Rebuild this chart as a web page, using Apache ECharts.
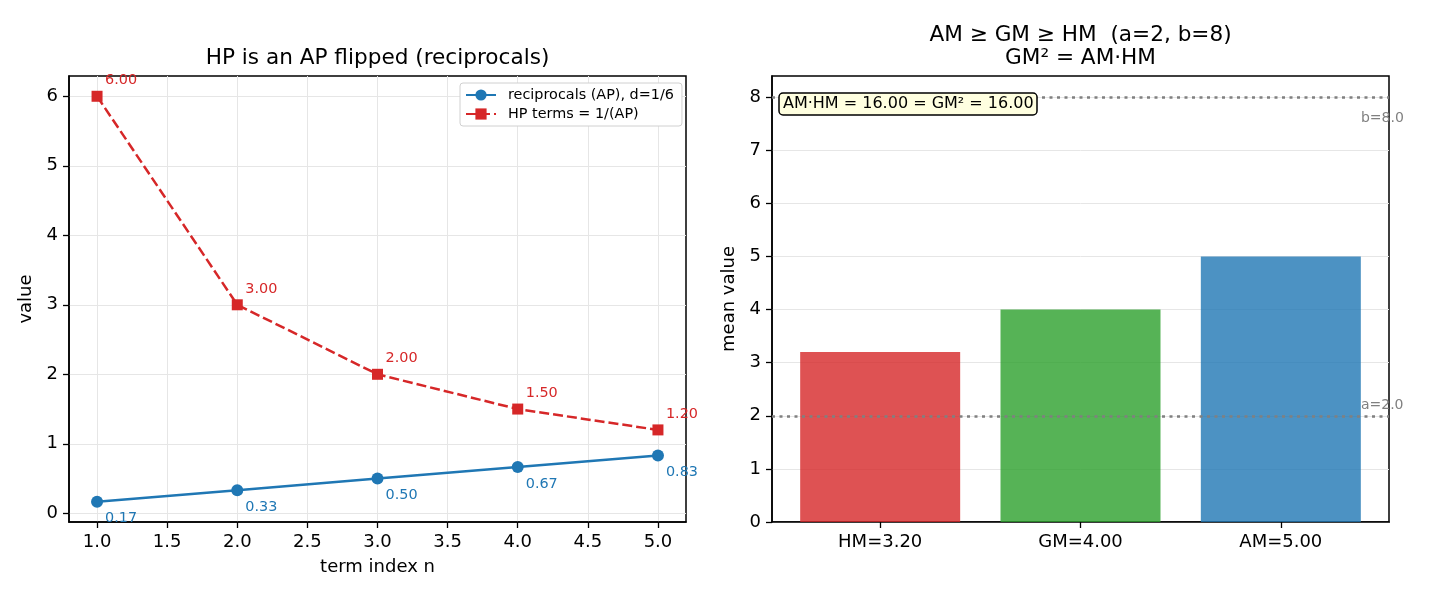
<!DOCTYPE html>
<html>
<head>
<meta charset="utf-8">
<script src="https://cdn.jsdelivr.net/npm/echarts@6/dist/echarts.min.js"></script>
<style>
  html, body { margin: 0; padding: 0; background: #fff; }
  #chart { width: 1430px; height: 598px; }
</style>
</head>
<body>
<div id="chart"></div>
<script>
// left panel: term index, reciprocals (AP) and HP terms
const termIndex = [1, 2, 3, 4, 5];
const apRecip = [0.1667, 0.3333, 0.5, 0.6667, 0.8333];
const hpTerms = [6.0, 3.0, 2.0, 1.5, 1.2];
const leftXTicks = [1.0, 1.5, 2.0, 2.5, 3.0, 3.5, 4.0, 4.5, 5.0];
const leftYTicks = [0, 1, 2, 3, 4, 5, 6];

// right panel: means for a=2, b=8
const meanNames = ['HM', 'GM', 'AM'];
const meanValues = [3.2, 4.0, 5.0];
const meanColors = ['#d62728', '#2ca02c', '#1f77b4'];
const aVal = 2;
const bVal = 8;
const rightYTicks = [0, 1, 2, 3, 4, 5, 6, 7, 8];

const FONT = 'DejaVu Sans';
const myChart = echarts.init(document.getElementById('chart'), null, { renderer: 'canvas' });

const axisCommon = {
    axisLine: { show: true, onZero: false, lineStyle: { color: '#000', width: 1.5 } },
    axisTick: { show: true, length: 6, lineStyle: { color: '#000', width: 1.3 } },
    axisLabel: { color: '#000', fontSize: 18, fontFamily: FONT, margin: 11 },
    nameTextStyle: { color: '#000', fontSize: 18, fontFamily: FONT },
    nameLocation: 'middle'
};

const option = {
    backgroundColor: '#fff',
    animation: false,
    textStyle: { fontFamily: FONT },
    title: [{
        // annotation box in right panel
        text: `AM·HM = ${(meanValues[2] * meanValues[0]).toFixed(2)} = GM² = ${(meanValues[1] * meanValues[1]).toFixed(2)}`,
        left: 779,
        top: 93,
        padding: [3, 4, 3, 4],
        backgroundColor: '#ffffe0',
        borderColor: '#000',
        borderWidth: 1.5,
        borderRadius: 4,
        textStyle: { fontSize: 16, fontWeight: 'normal', color: '#000', fontFamily: FONT }
    }],
    graphic: [
        { type: 'text', x: 377.5, y: 58, style: { text: 'HP is an AP flipped (reciprocals)', font: '21.6px "DejaVu Sans"', fill: '#000', align: 'center', verticalAlign: 'middle' } },
        { type: 'text', x: 1080.5, y: 35, style: { text: 'AM ≥ GM ≥ HM  (a=2, b=8)', font: '21.6px "DejaVu Sans"', fill: '#000', align: 'center', verticalAlign: 'middle' } },
        { type: 'text', x: 1080.5, y: 58, style: { text: 'GM² = AM·HM', font: '21.6px "DejaVu Sans"', fill: '#000', align: 'center', verticalAlign: 'middle' } }
    ],
    legend: {
        left: 460,
        top: 83,
        orient: 'vertical',
        itemWidth: 30,
        itemHeight: 14,
        itemGap: 5,
        padding: [5, 8, 5, 5],
        backgroundColor: '#fff',
        borderColor: '#d0d0d0',
        borderWidth: 1,
        borderRadius: 3,
        textStyle: { fontSize: 14.4, color: '#000', fontFamily: FONT, padding: [0, 0, 0, 7] },
        data: ['reciprocals (AP), d=1/6', 'HP terms = 1/(AP)']
    },
    grid: [
        { left: 69, top: 76, width: 617, height: 446, show: true, borderColor: '#000', borderWidth: 1.5, backgroundColor: 'transparent' },
        { left: 772, top: 76, width: 617, height: 446, show: true, borderColor: '#000', borderWidth: 1.5, backgroundColor: 'transparent' }
    ],
    xAxis: [
        {
            ...axisCommon,
            type: 'value',
            gridIndex: 0,
            min: 0.8,
            max: 5.2,
            name: 'term index n',
            nameGap: 36,
            axisTick: { ...axisCommon.axisTick, customValues: leftXTicks },
            axisLabel: { ...axisCommon.axisLabel, customValues: leftXTicks, formatter: v => v.toFixed(1) },
            splitLine: { show: true, lineStyle: { color: '#e6e6e6', width: 1 } }
        },
        {
            ...axisCommon,
            type: 'value',
            gridIndex: 1,
            min: -0.54,
            max: 2.54,
            axisTick: { ...axisCommon.axisTick, customValues: [0, 1, 2] },
            axisLabel: {
                ...axisCommon.axisLabel,
                customValues: [0, 1, 2],
                formatter: v => meanNames[Math.round(v)] + '=' + meanValues[Math.round(v)].toFixed(2)
            },
            splitLine: { show: false }
        }
    ],
    yAxis: [
        {
            ...axisCommon,
            type: 'value',
            gridIndex: 0,
            min: -0.125,
            max: 6.2917,
            name: 'value',
            nameGap: 34,
            axisTick: { ...axisCommon.axisTick, customValues: leftYTicks },
            axisLabel: { ...axisCommon.axisLabel, customValues: leftYTicks },
            splitLine: { show: true, lineStyle: { color: '#e6e6e6', width: 1 } }
        },
        {
            ...axisCommon,
            type: 'value',
            gridIndex: 1,
            min: 0,
            max: 8.4,
            name: 'mean value',
            nameGap: 34,
            axisTick: { ...axisCommon.axisTick, customValues: rightYTicks },
            axisLabel: { ...axisCommon.axisLabel, customValues: rightYTicks },
            splitLine: { show: true, lineStyle: { color: '#e6e6e6', width: 1 } }
        }
    ],
    series: [
        {
            name: 'reciprocals (AP), d=1/6',
            type: 'line',
            xAxisIndex: 0,
            yAxisIndex: 0,
            data: termIndex.map((n, i) => [n, apRecip[i]]),
            symbol: 'circle',
            symbolSize: 12,
            color: '#1f77b4',
            lineStyle: { width: 2.5, color: '#1f77b4' },
            label: {
                show: true,
                position: 'inside',
                align: 'left',
                verticalAlign: 'middle',
                offset: [8, 17],
                color: '#1f77b4',
                fontSize: 14.4,
                fontFamily: FONT,
                formatter: p => p.value[1].toFixed(2)
            },
            z: 3
        },
        {
            name: 'HP terms = 1/(AP)',
            type: 'line',
            xAxisIndex: 0,
            yAxisIndex: 0,
            data: termIndex.map((n, i) => [n, hpTerms[i]]),
            symbol: 'rect',
            symbolSize: 11,
            color: '#d62728',
            lineStyle: { width: 2.5, color: '#d62728', type: [10, 4] },
            label: {
                show: true,
                position: 'inside',
                align: 'left',
                verticalAlign: 'middle',
                offset: [8, -16],
                color: '#d62728',
                fontSize: 14.4,
                fontFamily: FONT,
                formatter: p => p.value[1].toFixed(2)
            },
            z: 3
        },
        {
            name: 'means',
            type: 'bar',
            xAxisIndex: 1,
            yAxisIndex: 1,
            barWidth: 160,
            data: meanValues.map((v, i) => ({
                value: [i, v],
                itemStyle: { color: meanColors[i], opacity: 0.8 }
            })),
            markLine: {
                silent: true,
                symbol: 'none',
                label: { show: false },
                lineStyle: { color: '#808080', type: [3, 4.5], width: 2.5 },
                data: [{ yAxis: aVal }, { yAxis: bVal }]
            },
            markPoint: {
                silent: true,
                symbol: 'circle',
                symbolSize: 0,
                label: {
                    show: true,
                    position: 'inside',
                    align: 'left',
                    verticalAlign: 'middle',
                    color: '#808080',
                    fontSize: 14,
                    fontFamily: FONT
                },
                data: [
                    { coord: [2.4, bVal], label: { formatter: 'b=' + bVal.toFixed(1), offset: [0, 21] } },
                    { coord: [2.4, aVal], label: { formatter: 'a=' + aVal.toFixed(1), offset: [0, -10] } }
                ]
            }
        }
    ]
};

myChart.setOption(option);
</script>
</body>
</html>
